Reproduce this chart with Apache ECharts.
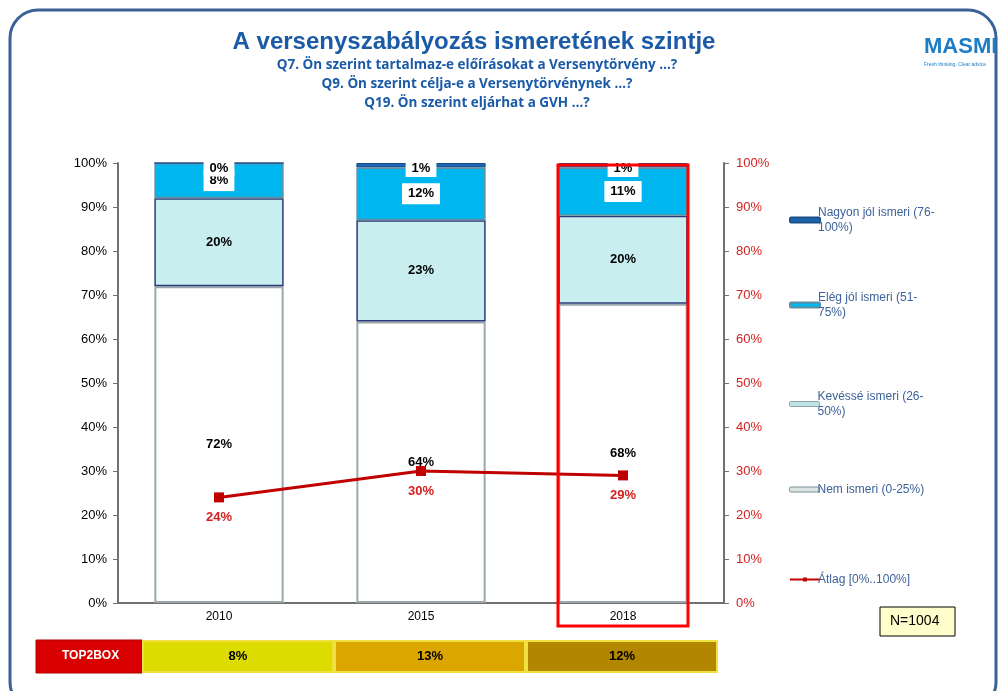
<!DOCTYPE html>
<html>
<head>
<meta charset="utf-8">
<style>
html,body{margin:0;padding:0;background:#fff;}
#main{width:1000px;height:691px;}
</style>
</head>
<body>
<div id="main"></div>
<script src="https://cdn.jsdelivr.net/npm/echarts@6/dist/echarts.min.js"></script>
<script>
// adatok
var years = ['2010', '2015', '2018'];
var nemIsmeri = [72, 64, 68];
var kevesse = [20, 23, 20];
var elegJol = [8, 12, 11];
var nagyonJol = [0, 1, 1];
var atlag = [24, 30, 29];
var top2box = ['8%', '13%', '12%'];
var pctTicks = ['0%', '10%', '20%', '30%', '40%', '50%', '60%', '70%', '80%', '90%', '100%'];

var legendNames = {
    'Nagyon jól ismeri (76-100%)': 'Nagyon jól ismeri (76-\n100%)',
    'Elég jól ismeri (51-75%)': 'Elég jól ismeri (51-\n75%)',
    'Kevéssé ismeri (26-50%)': 'Kevéssé ismeri (26-\n50%)',
    'Nem ismeri (0-25%)': 'Nem ismeri (0-25%)',
    'Átlag [0%..100%]': 'Átlag [0%..100%]'
};

var myChart = echarts.init(document.getElementById('main'));

var segLabel = {
    show: true,
    position: 'inside',
    color: '#000',
    fontWeight: 'bold',
    fontSize: 13,
    fontFamily: 'Liberation Sans',
    formatter: '{c}%'
};
var boxLabel = {
    show: true,
    position: 'inside',
    color: '#000',
    fontWeight: 'bold',
    fontSize: 13,
    fontFamily: 'Liberation Sans',
    backgroundColor: '#fff',
    padding: [4, 6],
    formatter: '{c}%'
};

// jelmagyarázat: külön blokk minden elemnek
var legendTops = [200, 285, 384, 477, 567];
var legendItems = [
    {name: 'Nagyon jól ismeri (76-100%)'},
    {name: 'Elég jól ismeri (51-75%)'},
    {name: 'Kevéssé ismeri (26-50%)', itemStyle: {color: '#c0e4e6', borderColor: '#8aa4a8', borderWidth: 1}},
    {name: 'Nem ismeri (0-25%)', itemStyle: {color: '#dde4e4', borderColor: '#7a9094', borderWidth: 1}},
    {name: 'Átlag [0%..100%]'}
];
var legends = legendItems.map(function (it, i) {
    return {
        orient: 'vertical',
        left: 784,
        top: legendTops[i],
        itemWidth: 30,
        itemHeight: 5,
        selectedMode: false,
        data: [it],
        formatter: function (n) { return legendNames[n]; },
        textStyle: {color: '#3d6299', fontSize: 12, fontFamily: 'Liberation Sans', lineHeight: 15, padding: [0, 0, 0, -7]}
    };
});

var option = {
    animation: false,
    title: [{
        text: 'A versenyszabályozás ismeretének szintje',
        left: 469,
        top: 25,
        textAlign: 'center',
        textStyle: {color: '#1a5aa6', fontSize: 24, fontWeight: 'bold', fontFamily: 'Liberation Sans'}
    }, {
        text: 'Q7. Ön szerint tartalmaz-e előírásokat a Versenytörvény …?\nQ9. Ön szerint célja-e a Versenytörvénynek …?\nQ19. Ön szerint eljárhat a GVH …?',
        left: 472,
        top: 51,
        textAlign: 'center',
        textStyle: {color: '#1a5aa6', fontSize: 13.5, fontWeight: 'bold', lineHeight: 19, fontFamily: 'Open Sans'}
    }],
    legend: legends,
    grid: [{
        left: 118, right: 276, top: 163, bottom: 88
    }, {
        left: 142, right: 282, top: 640, bottom: 18
    }],
    xAxis: [{
        type: 'category',
        data: years,
        gridIndex: 0,
        axisLine: {lineStyle: {color: '#707070', width: 2}},
        axisTick: {show: false},
        axisLabel: {color: '#000', fontSize: 12, fontFamily: 'Liberation Sans', margin: 8}
    }, {
        type: 'category',
        data: years,
        gridIndex: 1,
        show: false
    }],
    yAxis: [{
        type: 'value',
        min: 0, max: 100, interval: 10,
        gridIndex: 0,
        axisLine: {show: true, lineStyle: {color: '#707070', width: 2}},
        axisTick: {show: true, length: 5, inside: false, lineStyle: {color: '#707070'}},
        splitLine: {show: false},
        axisLabel: {color: '#000', fontSize: 13, fontFamily: 'Liberation Sans', margin: 11,
            formatter: function (v) { return pctTicks[v / 10]; }}
    }, {
        type: 'value',
        min: 0, max: 100, interval: 10,
        gridIndex: 0,
        position: 'right',
        axisLine: {show: true, lineStyle: {color: '#707070', width: 2}},
        axisTick: {show: true, length: 5, lineStyle: {color: '#707070'}},
        splitLine: {show: false},
        axisLabel: {color: '#d42020', fontSize: 13, fontFamily: 'Liberation Sans', margin: 12,
            formatter: function (v) { return pctTicks[v / 10]; }}
    }, {
        type: 'value',
        min: 0, max: 1,
        gridIndex: 1,
        show: false
    }],
    series: [{
        name: 'Nem ismeri (0-25%)',
        type: 'bar',
        stack: 'a',
        barWidth: '64%',
        data: nemIsmeri,
        itemStyle: {color: '#ffffff', borderColor: '#9aa8ac', borderWidth: 2},
        label: segLabel
    }, {
        name: 'Kevéssé ismeri (26-50%)',
        type: 'bar',
        stack: 'a',
        data: kevesse,
        itemStyle: {color: '#c8eef0', borderColor: '#2a3a7a', borderWidth: 1.5},
        label: segLabel
    }, {
        name: 'Elég jól ismeri (51-75%)',
        type: 'bar',
        stack: 'a',
        data: elegJol,
        itemStyle: {color: '#00b6ee', borderColor: '#5f8fa0', borderWidth: 1.5},
        label: boxLabel
    }, {
        name: 'Nagyon jól ismeri (76-100%)',
        type: 'bar',
        stack: 'a',
        data: nagyonJol,
        itemStyle: {color: '#1c66b0', borderColor: '#1c4f8a', borderWidth: 1},
        label: {
            show: true,
            position: 'insideTop',
            distance: -3,
            color: '#000',
            fontWeight: 'bold',
            fontSize: 13,
            fontFamily: 'Liberation Sans',
            backgroundColor: '#fff',
            padding: [2, 6],
            formatter: '{c}%'
        }
    }, {
        name: 'Átlag [0%..100%]',
        type: 'line',
        yAxisIndex: 1,
        data: atlag,
        symbol: 'rect',
        symbolSize: 10,
        z: 5,
        lineStyle: {color: '#c00000', width: 3},
        itemStyle: {color: '#c00000'},
        label: {
            show: true,
            position: 'bottom',
            distance: 9,
            color: '#d42020',
            fontWeight: 'bold',
            fontSize: 13,
            fontFamily: 'Liberation Sans',
            formatter: '{c}%'
        }
    }, {
        name: 'TOP2BOX',
        type: 'bar',
        xAxisIndex: 1,
        yAxisIndex: 2,
        barWidth: '100%',
        silent: true,
        data: [
            {value: 1, itemStyle: {color: '#dcdc00'}},
            {value: 1, itemStyle: {color: '#dca600'}},
            {value: 1, itemStyle: {color: '#b38600'}}
        ],
        itemStyle: {borderColor: '#f0e040', borderWidth: 2},
        label: {
            show: true,
            position: 'inside',
            color: '#000',
            fontWeight: 'bold',
            fontSize: 13,
            fontFamily: 'Liberation Sans',
            formatter: function (p) { return top2box[p.dataIndex]; }
        }
    }],
    graphic: [{
        type: 'rect',
        shape: {x: 10, y: 10, width: 986, height: 700, r: 28},
        style: {fill: 'none', stroke: '#3a6298', lineWidth: 3},
        silent: true
    }, {
        type: 'rect',
        shape: {x: 36, y: 640, width: 106, height: 33},
        style: {fill: '#d80000', stroke: '#b00000', lineWidth: 1},
        silent: true
    }, {
        type: 'text',
        left: 62, top: 650,
        style: {text: 'TOP2BOX', fill: '#fff', font: 'bold 12px "Liberation Sans"'},
        silent: true
    }, {
        type: 'rect',
        shape: {x: 558, y: 165, width: 130, height: 461},
        style: {fill: 'none', stroke: '#ff0000', lineWidth: 3},
        z: 100,
        silent: true
    }, {
        type: 'rect',
        shape: {x: 880, y: 607, width: 75, height: 29},
        style: {fill: '#ffffcc', stroke: '#000', lineWidth: 1},
        silent: true
    }, {
        type: 'text',
        left: 890, top: 614,
        style: {text: 'N=1004', fill: '#000', font: '14px "Liberation Sans"'},
        silent: true
    }, {
        type: 'text',
        left: 924, top: 36,
        style: {text: 'MASMI', fill: '#1c7cc4', font: 'bold 22px "Liberation Sans"'},
        silent: true
    }, {
        type: 'text',
        left: 924, top: 62,
        style: {text: 'Fresh thinking. Clear advice.', fill: '#1c7cc4', font: '5px "Liberation Sans"'},
        silent: true
    }]
};

myChart.setOption(option);
</script>
</body>
</html>
